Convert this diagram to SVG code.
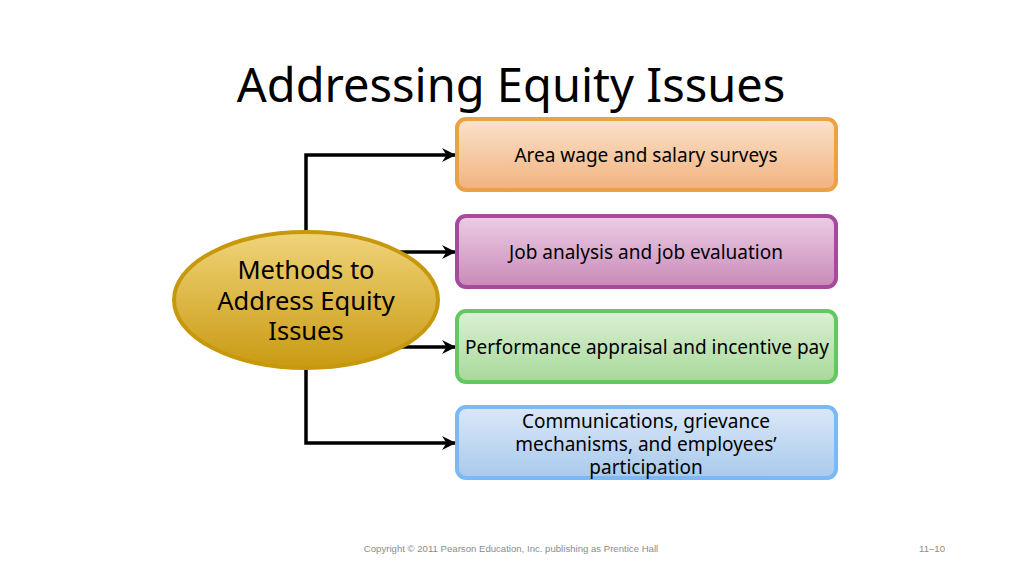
<svg xmlns="http://www.w3.org/2000/svg" width="1024" height="575" viewBox="0 0 1024 575">
<defs>
<style>
.t{font-family:"Noto Sans","Open Sans","DejaVu Sans",sans-serif;fill:#000;text-anchor:middle}
.bx{stroke-width:4}
.ln{fill:none;stroke:#000;stroke-width:3.5}
.ft{font-family:"Liberation Sans",Arial,sans-serif;font-size:9.6px;fill:#8c8c8c}
</style>
<marker id="ar" markerWidth="16" markerHeight="16" viewBox="0 0 16 16" refX="15" refY="8" orient="auto" markerUnits="userSpaceOnUse">
<path d="M1,1 L15,8 L1,15 L5.5,8 Z" fill="#000"/>
</marker>
<linearGradient id="g1" x1="0" y1="0" x2="0" y2="1"><stop offset="0" stop-color="#fbe2cc"/><stop offset="1" stop-color="#f1b27e"/></linearGradient>
<linearGradient id="g2" x1="0" y1="0" x2="0" y2="1"><stop offset="0" stop-color="#eccde4"/><stop offset="1" stop-color="#c88ab8"/></linearGradient>
<linearGradient id="g3" x1="0" y1="0" x2="0" y2="1"><stop offset="0" stop-color="#dcf0d4"/><stop offset="1" stop-color="#a8d89a"/></linearGradient>
<linearGradient id="g4" x1="0" y1="0" x2="0" y2="1"><stop offset="0" stop-color="#dae8f8"/><stop offset="1" stop-color="#a9c9ec"/></linearGradient>
<linearGradient id="ge" x1="0" y1="0" x2="0" y2="1"><stop offset="0" stop-color="#f0d47a"/><stop offset="1" stop-color="#c99a12"/></linearGradient>
</defs>
<rect width="1024" height="575" fill="#fff"/>
<text class="t" x="511" y="102" font-size="47">Addressing Equity Issues</text>
<g id="connectors">
<path class="ln" d="M306,240 V155 H456" marker-end="url(#ar)"/>
<path class="ln" d="M380,252 H456" marker-end="url(#ar)"/>
<path class="ln" d="M380,347 H456" marker-end="url(#ar)"/>
<path class="ln" d="M306,360 V443 H456" marker-end="url(#ar)"/>
</g>
<g id="center">
<ellipse cx="306" cy="300" rx="132" ry="68" fill="url(#ge)" stroke="#c8980c" stroke-width="4"/>
<text class="t" font-size="25.5"><tspan x="306" y="279">Methods to</tspan><tspan x="306" y="310">Address Equity</tspan><tspan x="306" y="340">Issues</tspan></text>
</g>
<g id="n1">
<rect class="bx" x="457" y="119" width="379" height="71" rx="9" fill="url(#g1)" stroke="#eba244"/>
<text class="t" x="646" y="162" font-size="19">Area wage and salary surveys</text>
</g>
<g id="n2">
<rect class="bx" x="457" y="216" width="379" height="71" rx="9" fill="url(#g2)" stroke="#a64a9c"/>
<text class="t" x="646" y="259" font-size="19">Job analysis and job evaluation</text>
</g>
<g id="n3">
<rect class="bx" x="457" y="311" width="379" height="71" rx="9" fill="url(#g3)" stroke="#62c862"/>
<text class="t" x="647" y="354" font-size="19">Performance appraisal and incentive pay</text>
</g>
<g id="n4">
<rect class="bx" x="457" y="407" width="379" height="71" rx="9" fill="url(#g4)" stroke="#7ab8f6"/>
<text class="t" font-size="19"><tspan x="646" y="428">Communications, grievance</tspan><tspan x="646" y="451">mechanisms, and employees’</tspan><tspan x="646" y="474">participation</tspan></text>
</g>
<text class="ft" x="511" y="552" text-anchor="middle">Copyright © 2011 Pearson Education, Inc. publishing as Prentice Hall</text>
<text class="ft" x="945" y="552" text-anchor="end">11–10</text>
</svg>
